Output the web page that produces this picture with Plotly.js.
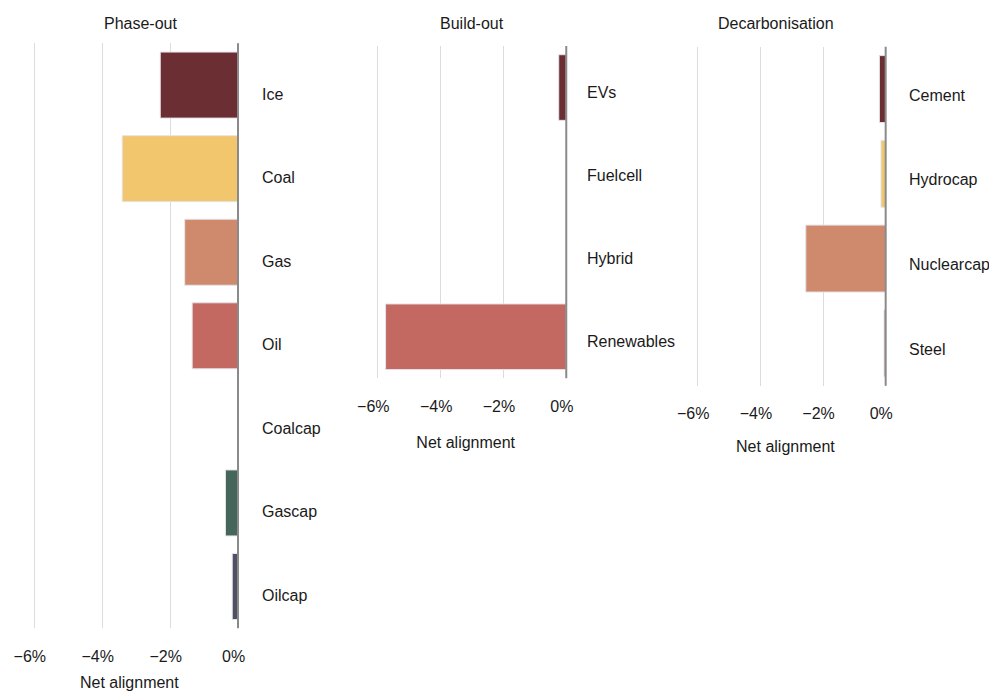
<!DOCTYPE html>
<html>
<head>
<meta charset="utf-8">
<script src="https://cdn.plot.ly/plotly-3.0.1.min.js"></script>
<style>html,body{margin:0;padding:0;background:#fff;}#chart{width:989px;height:691px;}</style>
</head>
<body>
<div id="chart"></div>
<script>
// Data
const panelTitles = ["Phase-out", "Build-out", "Decarbonisation"];
const phaseOutCats = ["Ice", "Coal", "Gas", "Oil", "Coalcap", "Gascap", "Oilcap"];
const phaseOutVals = [-2.29, -3.41, -1.57, -1.35, 0, -0.37, -0.17];
const buildOutCats = ["EVs", "Fuelcell", "Hybrid", "Renewables"];
const buildOutVals = [-0.24, 0, 0, -5.75];
const decarbCats = ["Cement", "Hydrocap", "Nuclearcap", "Steel"];
const decarbVals = [-0.2, -0.15, -2.55, -0.05];
const palette = ["#6b2e33", "#f2c66d", "#cf8a6e", "#c36962", "#f2c66d", "#46665c", "#4f4f66"];
const xTickVals = [-6, -4, -2, 0];
const xTickText = ["\u22126%", "\u22124%", "\u22122%", "0%"];
const axisTitle = "Net alignment";

const FONT = "Liberation Sans, Arial, sans-serif";
const W = 989, H = 691;
const NB = "\u00a0\u00a0";

const panels = [
  {cats: phaseOutCats, vals: phaseOutVals, px: [17.3, 241.4], py: [43.3, 628.3], titleX: 140.7, labShiftX: 22, labShiftY: -9, standoff: 14},
  {cats: buildOutCats, vals: buildOutVals, px: [362.0, 569.4], py: [46.0, 378.3], titleX: 472.3, labShiftX: 19, labShiftY: -4.5, standoff: 23},
  {cats: decarbCats, vals: decarbVals, px: [682.0, 888.8], py: [46.7, 385.7], titleX: 775.7, labShiftX: 21, labShiftY: -6, standoff: 19}
];

const data = [];
const layout = {
  width: W, height: H,
  margin: {l: 0, r: 0, t: 0, b: 0},
  paper_bgcolor: "#ffffff",
  plot_bgcolor: "#ffffff",
  showlegend: false,
  font: {family: FONT, size: 16, color: "#1a1a1a"},
  annotations: [],
  shapes: []
};

panels.forEach((p, i) => {
  const n = i === 0 ? "" : String(i + 1);
  const xa = "x" + n, ya = "y" + n;
  const idx = p.cats.map((_, k) => k);
  data.push({
    type: "bar",
    orientation: "h",
    x: p.vals,
    y: idx,
    xaxis: xa, yaxis: ya,
    width: 0.79,
    marker: {
      color: p.cats.map((_, k) => palette[k]),
      line: {color: "#e4e4ea", width: p.vals.map(v => v === 0 ? 0 : 1)}
    },
    hoverinfo: "x+text",
    text: p.cats,
    textposition: "none"
  });
  layout["xaxis" + n] = {
    domain: [p.px[0] / W, p.px[1] / W],
    anchor: ya,
    range: [-6.5, 0.1],
    tickvals: xTickVals,
    ticktext: xTickText.map(t => t + NB),
    ticks: "outside", ticklen: 13, tickcolor: "rgba(0,0,0,0)",
    showgrid: true, gridcolor: "#dcdcdc", gridwidth: 1,
    zeroline: false,
    showline: false,
    tickfont: {family: FONT, size: 16, color: "#1a1a1a"},
    title: {text: axisTitle, font: {family: FONT, size: 16, color: "#1a1a1a"}, standoff: p.standoff},
    fixedrange: true
  };
  layout["yaxis" + n] = {
    domain: [1 - p.py[1] / H, 1 - p.py[0] / H],
    anchor: xa,
    range: [p.cats.length - 0.5, -0.5],
    showticklabels: false,
    showgrid: false, zeroline: false, showline: false, ticks: "",
    fixedrange: true
  };
  layout.shapes.push({
    type: "line", layer: "above",
    xref: xa, yref: ya + " domain",
    x0: 0, x1: 0, y0: 0, y1: 1,
    line: {color: "#8a8a8a", width: 2}
  });
  p.cats.forEach((c, k) => {
    layout.annotations.push({
      xref: xa, yref: ya, x: 0, y: k,
      text: c, showarrow: false,
      xanchor: "left", yanchor: "middle",
      xshift: p.labShiftX, yshift: p.labShiftY,
      font: {family: FONT, size: 16, color: "#1a1a1a"}
    });
  });
  layout.annotations.push({
    xref: "paper", yref: "paper", x: p.titleX / W, y: 1 - 23 / H,
    text: panelTitles[i], showarrow: false,
    xanchor: "center", yanchor: "middle",
    font: {family: FONT, size: 16, color: "#1a1a1a"}
  });
});

Plotly.newPlot("chart", data, layout, {displayModeBar: false, staticPlot: true});
</script>
</body>
</html>
